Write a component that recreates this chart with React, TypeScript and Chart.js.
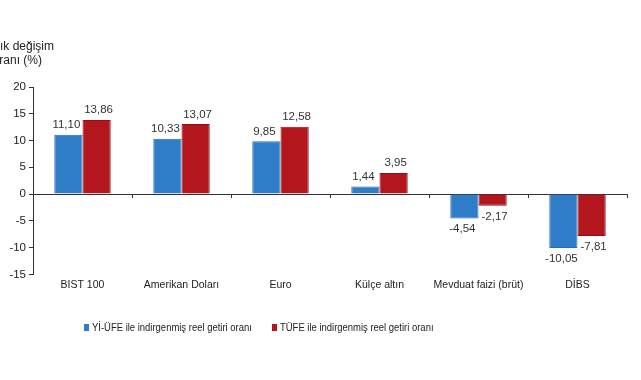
import React, { useEffect, useRef } from "react";
import { Chart, registerables } from "chart.js";
Chart.register(...registerables);

const categories = ["BIST 100", "Amerikan Doları", "Euro", "Külçe altın", "Mevduat faizi (brüt)", "DİBS"];
const yiufeValues = [11.10, 10.33, 9.85, 1.44, -4.54, -10.05];
const tufeValues = [13.86, 13.07, 12.58, 3.95, -2.17, -7.81];
const seriesNames = ["Yİ-ÜFE ile indirgenmiş reel getiri oranı", "TÜFE ile indirgenmiş reel getiri oranı"];
const yTitleLines = ["Yıllık değişim", "oranı (%)"];

const BLUE = "#2f7cc8";
const RED = "#b3161d";
const FONT = "'Liberation Sans', Arial, sans-serif";

const fmt = (v: number) => v.toFixed(2).replace(".", ",");

const customPlugin = {
  id: "custom",
  afterDatasetsDraw(chart: any) {
    const ctx = chart.ctx;
    ctx.save();
    ctx.font = `11.5px ${FONT}`;
    ctx.fillStyle = "#333";
    ctx.textAlign = "center";
    chart.data.datasets.forEach((ds: any, di: number) => {
      const meta = chart.getDatasetMeta(di);
      meta.data.forEach((el: any, i: number) => {
        const v = ds.data[i];
        const dx = di === 0 ? -2 : 2;
        if (v >= 0) {
          ctx.textBaseline = "bottom";
          ctx.fillText(fmt(v), el.x + dx, el.y - 4);
        } else {
          ctx.textBaseline = "top";
          ctx.fillText(fmt(v), el.x + dx, el.y + 5);
        }
      });
    });
    const xs = chart.scales.x;
    const y0 = chart.scales.y.getPixelForValue(0);
    ctx.strokeStyle = "#333";
    ctx.lineWidth = 1;
    const n = categories.length;
    const w = (xs.right - xs.left) / n;
    for (let i = 1; i <= n; i++) {
      const x = Math.round(xs.left + w * i) + 0.5;
      ctx.beginPath();
      ctx.moveTo(x, y0);
      ctx.lineTo(x, y0 + 4);
      ctx.stroke();
    }
    ctx.restore();
  },
  afterDraw(chart: any) {
    const ctx = chart.ctx;
    ctx.save();
    ctx.font = `12px ${FONT}`;
    ctx.fillStyle = "#222";
    ctx.textAlign = "right";
    ctx.textBaseline = "middle";
    ctx.fillText(yTitleLines[0], 54, 47);
    ctx.fillText(yTitleLines[1], 42, 61);
    ctx.font = `11px ${FONT}`;
    ctx.textAlign = "left";
    const items = [
      { x: 84, color: BLUE, text: seriesNames[0] },
      { x: 272, color: RED, text: seriesNames[1] },
    ];
    items.forEach((it) => {
      ctx.fillStyle = it.color;
      ctx.fillRect(it.x, 324, 5, 7);
      ctx.fillStyle = "#222";
      ctx.save();
      ctx.translate(it.x + 8, 328);
      ctx.scale(0.86, 1);
      ctx.fillText(it.text, 0, 0);
      ctx.restore();
    });
    ctx.restore();
  },
};

export default function App() {
  const ref = useRef<HTMLCanvasElement>(null);
  useEffect(() => {
    document.body.style.margin = "0";
    const chart = new Chart(ref.current!, {
      type: "bar",
      data: {
        labels: categories,
        datasets: [
          { label: seriesNames[0], data: yiufeValues, backgroundColor: BLUE, borderColor: "#2a6db0", borderWidth: 1 },
          { label: seriesNames[1], data: tufeValues, backgroundColor: RED, borderColor: "#8e1015", borderWidth: 1 },
        ],
      },
      options: {
        animation: false,
        responsive: false,
        maintainAspectRatio: false,
        layout: { padding: { top: 87, left: 0, right: 14, bottom: 85 } },
        datasets: { bar: { categoryPercentage: 0.57, barPercentage: 1 } },
        plugins: { legend: { display: false }, tooltip: { enabled: false } },
        scales: {
          x: {
            grid: { display: false, drawTicks: false },
            border: { display: false },
            ticks: { color: "#222", font: { family: FONT, size: 10.5 }, padding: 4, maxRotation: 0, autoSkip: false },
          },
          y: {
            min: -15,
            max: 20,
            ticks: { stepSize: 5, color: "#222", font: { family: FONT, size: 11.5 }, padding: 3 },
            grid: {
              color: (c: any) => (c.tick && c.tick.value === 0 ? "#333" : "transparent"),
              tickColor: "#333",
              tickLength: 4,
            },
            border: { color: "#333" },
            afterFit: (s: any) => { s.width = 33; },
          },
        },
      },
      plugins: [customPlugin],
    });
    return () => chart.destroy();
  }, []);
  return <canvas ref={ref} width={641} height={380} style={{ display: "block" }} />;
}
